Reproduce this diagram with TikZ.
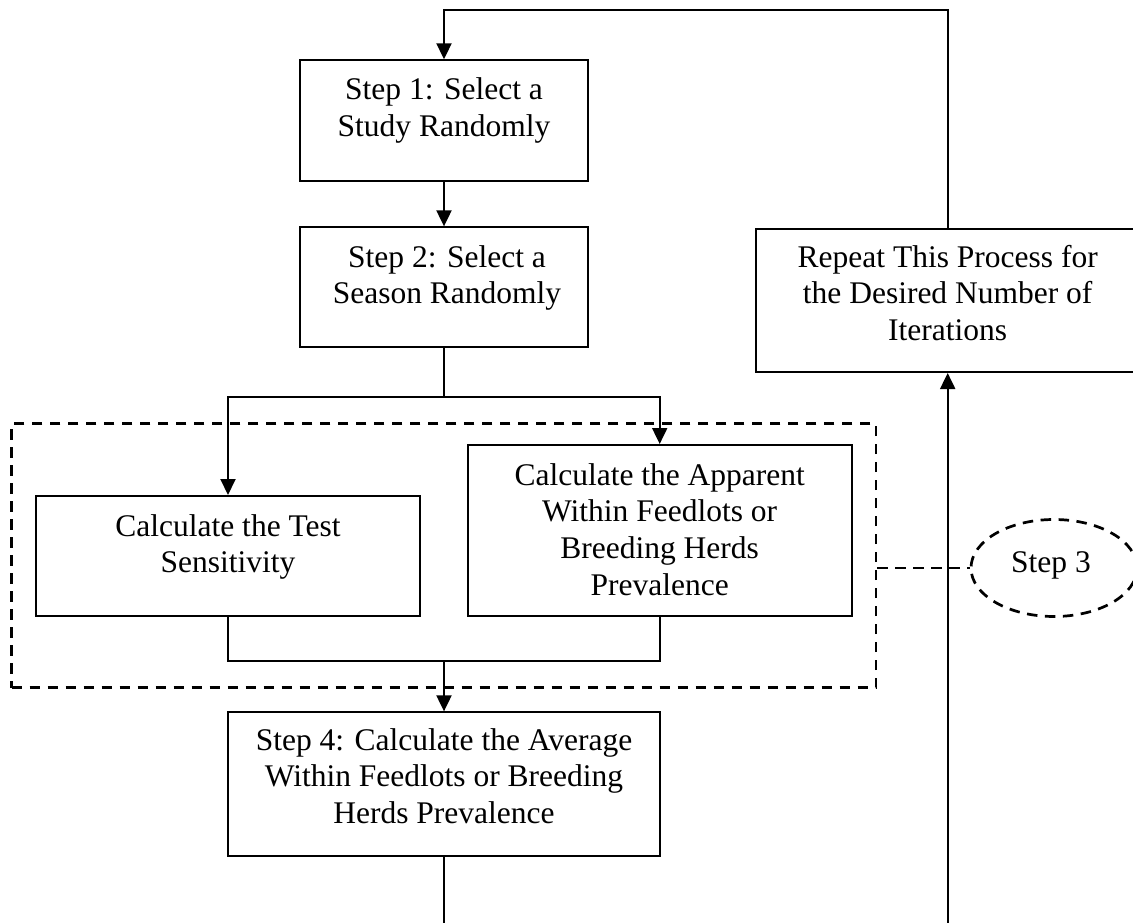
\documentclass[tikz,border=0pt]{standalone}
\usepackage{fontspec}
\setmainfont{Liberation Serif}
\usetikzlibrary{arrows.meta,shapes.geometric}

\begin{document}
\begin{tikzpicture}[x=1pt,y=-1pt,
  box/.style={draw, line width=2pt, rectangle, inner sep=0pt},
  % multi-line labels: the base anchor sits on the last line's baseline
  txt/.style={font=\fontsize{31.5}{36.7}\selectfont, align=center, anchor=base, inner sep=0pt},
  link/.style={line width=2pt},
  arr/.style={link, -{Triangle[width=15pt,length=16pt]}},
  dashline/.style={line width=2.7pt, dash pattern=on 10.5pt off 7.5pt}
]
\useasboundingbox (0,0) rectangle (1133,923);

% boxes
\node[box, minimum width=288pt, minimum height=120.4pt] (s1) at (444,120.5) {};
\node[box, minimum width=288pt, minimum height=119.7pt] (s2) at (444,287.2) {};
\node[box, minimum width=384pt, minimum height=143pt] (rep) at (947.7,300.5) {};
\node[box, minimum width=384pt, minimum height=119.7pt] (test) at (228,555.85) {};
\node[box, minimum width=384pt, minimum height=170.7pt] (app) at (659.7,530.35) {};
\node[box, minimum width=432pt, minimum height=143.7pt] (s4) at (444,784.2) {};

% grouping frame for step 3 and its label
\node[dashline, draw, rectangle, inner sep=0pt, minimum width=864.3pt, minimum height=264pt] (grp) at (443.85,555.7) {};
\node[dashline, draw, ellipse, inner sep=0pt, minimum width=166pt, minimum height=97pt] (st3) at (1054,568) {};

% texts
\node[txt] (t1) at (444,136.7) {Step 1: Select a\\Study Randomly};
\node[txt] (t2) at (447,303.7) {Step 2: Select a\\Season Randomly};
\node[txt] (trep) at (947.7,340.4) {Repeat This Process for\\the Desired Number of\\Iterations};
\node[txt] (ttest) at (228,572.7) {Calculate the Test\\Sensitivity};
\node[txt] (tapp) at (659.7,595.1) {Calculate the Apparent\\Within Feedlots or\\Breeding Herds\\Prevalence};
\node[txt] (t4) at (444,823.4) {Step 4: Calculate the Average\\Within Feedlots or Breeding\\Herds Prevalence};
\node[txt] (t3) at (1051,572) {Step 3};

% connectors
\coordinate (split) at (444,396.7);
\coordinate (merge) at (444,660.7);
\coordinate (botL) at (444,923);
\coordinate (botR) at (947.7,923);

\draw[arr] (rep.north) -- ++(0,-218) -| (s1.north);
\draw[arr] (s1.south) -- (s2.north);
\draw[link] (s2.south) -- (split);
\draw[arr] (split) -| (test.north);
\draw[arr] (split) -| (app.north);
\draw[link] (test.south) |- (merge);
\draw[link] (app.south) |- (merge);
\draw[arr] (merge) -- (s4.north);
\draw[link] (s4.south) -- (botL);
\draw[arr] (botR) -- (rep.south);
\draw[dashline] (st3.west -| grp.east) -- (st3.west);
\end{tikzpicture}
\end{document}
